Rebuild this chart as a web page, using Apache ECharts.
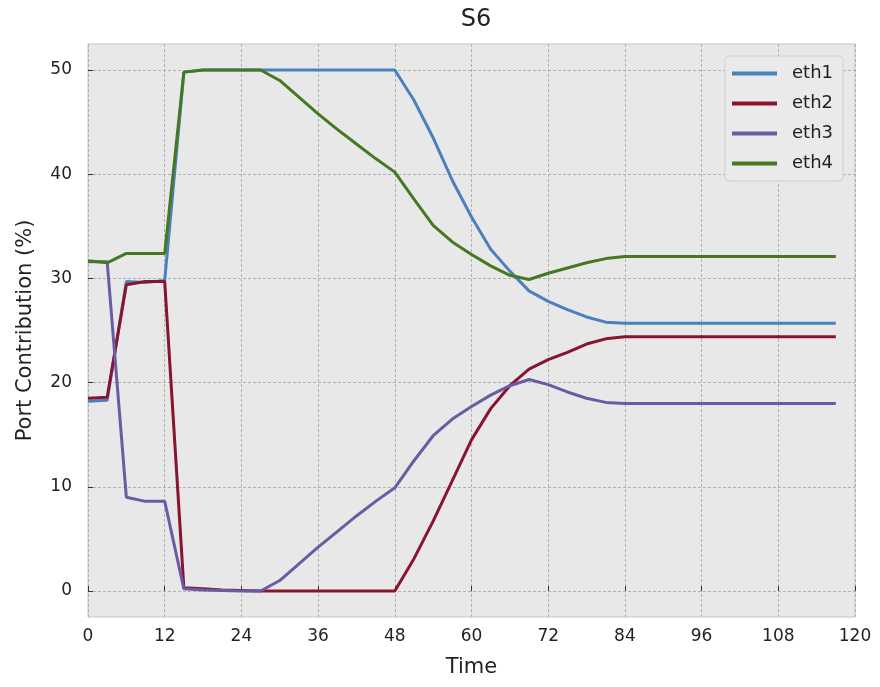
<!DOCTYPE html>
<html>
<head>
<meta charset="utf-8">
<script src="https://cdn.jsdelivr.net/npm/echarts@6/dist/echarts.min.js"></script>
<style>html,body{margin:0;padding:0;background:#fff}#c{width:880px;height:687px}</style>
</head>
<body>
<div id="c"></div>
<script>
const time = [0,3,6,9,12,15,18,21,24,27,30,33,36,39,42,45,48,51,54,57,60,63,66,69,72,75,78,81,84,87,90,93,96,99,102,105,108,111,114,117];
const eth1 = [18.2,18.3,29.7,29.6,29.8,49.8,50,50,50,50,50,50,50,50,50,50,50,47.1,43.5,39.4,35.9,32.8,30.7,28.8,27.8,27.0,26.3,25.8,25.7,25.7,25.7,25.7,25.7,25.7,25.7,25.7,25.7,25.7,25.7,25.7];
const eth2 = [18.5,18.6,29.4,29.7,29.7,0.3,0.2,0.1,0.05,0,0,0,0,0,0,0,0,3.1,6.7,10.6,14.5,17.5,19.7,21.3,22.2,22.9,23.7,24.2,24.4,24.4,24.4,24.4,24.4,24.4,24.4,24.4,24.4,24.4,24.4,24.4];
const eth3 = [31.6,31.6,9.0,8.6,8.6,0.2,0.1,0.05,0,0,1.0,2.6,4.2,5.7,7.2,8.6,9.9,12.5,14.9,16.5,17.7,18.8,19.7,20.3,19.8,19.1,18.5,18.1,18.0,18.0,18.0,18.0,18.0,18.0,18.0,18.0,18.0,18.0,18.0,18.0];
const eth4 = [31.7,31.5,32.4,32.4,32.4,49.8,50,50,50,50,49.0,47.4,45.8,44.3,42.9,41.5,40.2,37.6,35.1,33.5,32.3,31.2,30.3,29.9,30.5,31.0,31.5,31.9,32.1,32.1,32.1,32.1,32.1,32.1,32.1,32.1,32.1,32.1,32.1,32.1];
const yTicks = [0,10,20,30,40,50];
const seriesNames = ['eth1','eth2','eth3','eth4'];
const colors = ['#4b80bf','#871530','#6b5ba3','#467821'];

const values = [eth1, eth2, eth3, eth4];
const chart = echarts.init(document.getElementById('c'), null, {renderer:'canvas'});
const font = 'DejaVu Sans';
chart.setOption({
  animation: false,
  backgroundColor: '#ffffff',
  title: {text: 'S6', left: 471, top: 3, textAlign: 'center',
    textStyle: {fontFamily: font, fontSize: 24, fontWeight: 'normal', color: '#222'}},
  grid: {left: 88, right: 25, top: 44, bottom: 70, show: true,
    backgroundColor: '#e8e8e8', borderColor: '#c4c4c4', borderWidth: 1},
  legend: {
    orient: 'vertical', right: 37, top: 56,
    data: seriesNames,
    icon: 'rect', itemWidth: 45, itemHeight: 4, itemGap: 9,
    backgroundColor: '#eaeaea', borderColor: '#d0d0d0', borderWidth: 1, borderRadius: 4,
    padding: [7, 10, 7, 7],
    textStyle: {fontFamily: font, fontSize: 18, color: '#222', lineHeight: 21, padding: [0,0,0,10]}
  },
  xAxis: {
    type: 'value', min: 0, max: 120, interval: 12,
    name: 'Time', nameLocation: 'middle', nameGap: 40,
    nameTextStyle: {fontFamily: font, fontSize: 21, color: '#222'},
    axisLine: {show: false},
    axisTick: {show: true, inside: true, length: 5, lineStyle: {color: '#333'}},
    axisLabel: {fontFamily: font, fontSize: 17, color: '#222', margin: 11},
    splitLine: {show: true, lineStyle: {color: '#b0b0b0', type: [3,2], width: 1}}
  },
  yAxis: {
    type: 'value', min: -2.5, max: 52.5,
    name: 'Port Contribution (%)', nameLocation: 'middle', nameGap: 52,
    nameTextStyle: {fontFamily: font, fontSize: 21, color: '#222'},
    axisLine: {show: false},
    axisTick: {show: true, inside: true, length: 5, customValues: yTicks, lineStyle: {color: '#333'}},
    axisLabel: {fontFamily: font, fontSize: 17, color: '#222', margin: 16, customValues: yTicks},
    splitLine: {show: true, lineStyle: {color: '#b0b0b0', type: [3,2], width: 1}}
  },
  series: seriesNames.map((n, i) => ({
    name: n, type: 'line', showSymbol: false, symbol: 'none',
    data: time.map((t, j) => [t, values[i][j]]),
    lineStyle: {color: colors[i], width: 3},
    itemStyle: {color: colors[i]}
  }))
});
</script>
</body>
</html>
